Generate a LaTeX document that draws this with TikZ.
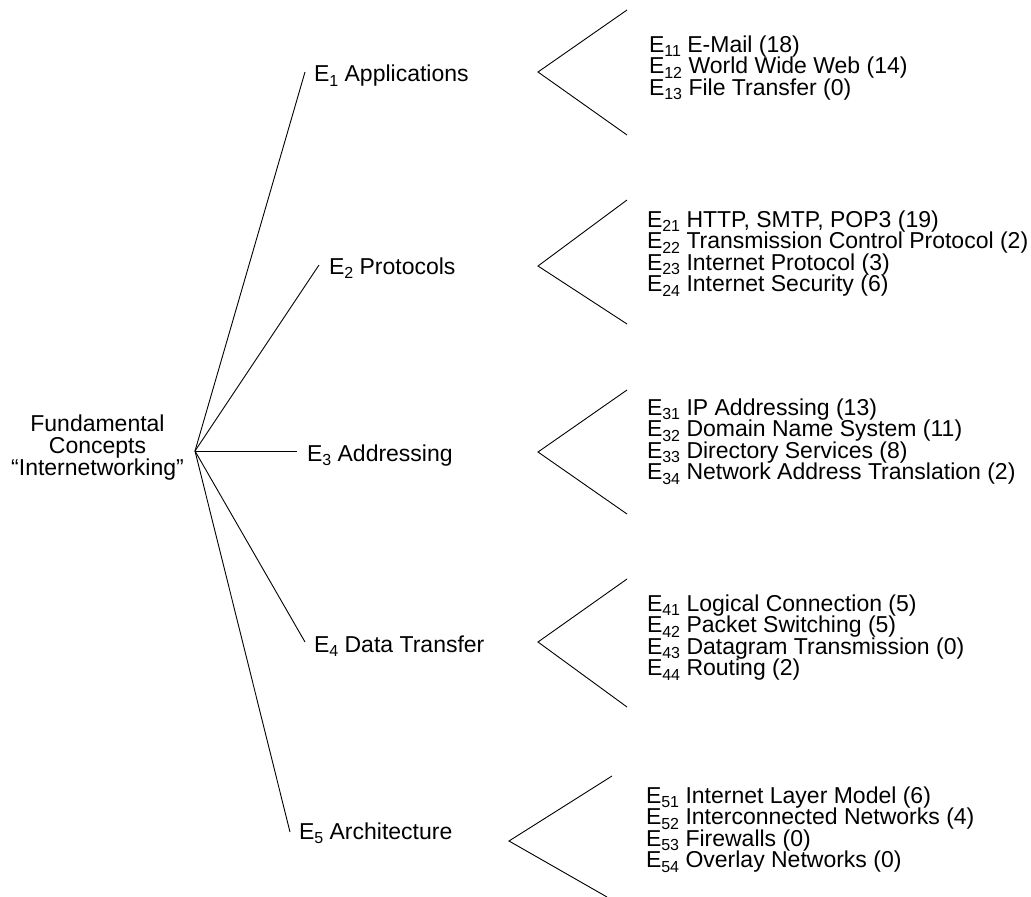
\documentclass[tikz,border=0pt]{standalone}
\usepackage{fontspec}
\setmainfont{Liberation Sans}
\newcommand\esub[1]{\raisebox{-4.8pt}{\fontsize{16}{16}\selectfont #1}}
\begin{document}
\begin{tikzpicture}[x=1pt,y=-1pt,
  every node/.style={font=\fontsize{23}{22}\selectfont, inner sep=0pt, outer sep=0pt},
  lbl/.style={anchor=base west},
  item/.style={anchor=base west},
  conn/.style={line width=0.9pt, black},
  chev/.style={line width=0.9pt, black}]
\useasboundingbox (0,0) rectangle (1031,897);
% root
\node[align=center, font=\fontsize{23}{22}\selectfont] (root) at (97.5,448) {Fundamental\\Concepts\\``Internetworking''};
\coordinate (r) at (195,451);
% branch ends
\coordinate (b1) at (305,72);
\coordinate (b2) at (319,265);
\coordinate (b3) at (297,451);
\coordinate (b4) at (305,642);
\coordinate (b5) at (290,832);
\draw[conn] (r) -- (b1);
\draw[conn] (r) -- (b2);
\draw[conn] (r) -- (b3);
\draw[conn] (r) -- (b4);
\draw[conn] (r) -- (b5);
% branch labels
\node[lbl] (e1) at (314,81.5) {E\esub{1} Applications};
\node[lbl] (e2) at (329,274) {E\esub{2} Protocols};
\node[lbl] (e3) at (307,461) {E\esub{3} Addressing};
\node[lbl] (e4) at (314,652) {E\esub{4} Data Transfer};
\node[lbl] (e5) at (299,839) {E\esub{5} Architecture};
% chevrons
\coordinate (a1) at (538,72);  \coordinate (t1) at (627,10);  \coordinate (u1) at (627,135);
\coordinate (a2) at (538,266); \coordinate (t2) at (627,200); \coordinate (u2) at (627,324);
\coordinate (a3) at (538,452); \coordinate (t3) at (627,390); \coordinate (u3) at (627,514);
\coordinate (a4) at (538,642); \coordinate (t4) at (627,579); \coordinate (u4) at (627,707);
\coordinate (a5) at (509,841); \coordinate (t5) at (612,776); \coordinate (u5) at (607,897);
\foreach \i in {1,...,5}{\draw[chev] (t\i) -- (a\i) -- (u\i);}
% lists
\node[item] (e11) at (649,52) {E\esub{11} E-Mail (18)};
\node[item] (e12) at (649,73.5) {E\esub{12} World Wide Web (14)};
\node[item] (e13) at (649,95) {E\esub{13} File Transfer (0)};
\node[item] (e21) at (647,227) {E\esub{21} HTTP, SMTP, POP3 (19)};
\node[item] (e22) at (647,248.5) {E\esub{22} Transmission Control Protocol (2)};
\node[item] (e23) at (647,270) {E\esub{23} Internet Protocol (3)};
\node[item] (e24) at (647,291.5) {E\esub{24} Internet Security (6)};
\node[item] (e31) at (647,415) {E\esub{31} IP Addressing (13)};
\node[item] (e32) at (647,436.5) {E\esub{32} Domain Name System (11)};
\node[item] (e33) at (647,458) {E\esub{33} Directory Services (8)};
\node[item] (e34) at (647,479.5) {E\esub{34} Network Address Translation (2)};
\node[item] (e41) at (647,611) {E\esub{41} Logical Connection (5)};
\node[item] (e42) at (647,632.5) {E\esub{42} Packet Switching (5)};
\node[item] (e43) at (647,654) {E\esub{43} Datagram Transmission (0)};
\node[item] (e44) at (647,675.5) {E\esub{44} Routing (2)};
\node[item] (e51) at (646,803) {E\esub{51} Internet Layer Model (6)};
\node[item] (e52) at (646,824.5) {E\esub{52} Interconnected Networks (4)};
\node[item] (e53) at (646,846) {E\esub{53} Firewalls (0)};
\node[item] (e54) at (646,867.5) {E\esub{54} Overlay Networks (0)};
\end{tikzpicture}
\end{document}
